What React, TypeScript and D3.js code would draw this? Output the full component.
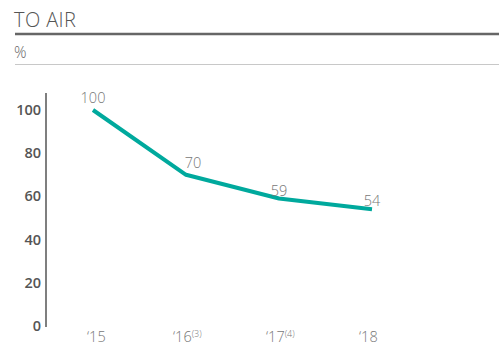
import React from "react";
import * as d3 from "d3";

const years = ["15", "16", "17", "18"];
const notes = ["", "(3)", "(4)", ""];
const values = [100, 70, 59, 54];
const yTicks = [0, 20, 40, 60, 80, 100];

const W = 499;
const H = 362;

export default function App() {
  const x = d3.scalePoint<string>().domain(years).range([93, 372]);
  const y = d3.scaleLinear().domain([0, 100]).range([326, 110]);
  const pts = years.map((yr, i) => ({ yr, v: values[i] }));
  const line = d3
    .line<{ yr: string; v: number }>()
    .x((d) => x(d.yr)!)
    .y((d) => y(d.v));

  const font = "'Open Sans', 'Noto Sans', sans-serif";

  return (
    <svg
      width={W}
      height={H}
      style={{ position: "absolute", left: 0, top: 0, background: "#fff" }}
      fontFamily={font}
    >
      <text x={14} y={27} fontSize={20} fontWeight={300} fill="#555" letterSpacing={0.4}>
        TO AIR
      </text>
      <line x1={15} x2={W} y1={34} y2={34} stroke="#666" strokeWidth={2.5} />
      <text x={14} y={57.5} fontSize={15.5} fontWeight={300} fill="#666">
        %
      </text>
      <line x1={15} x2={W} y1={64.5} y2={64.5} stroke="#c8c8c8" strokeWidth={1} />

      {/* y axis */}
      <line x1={46} x2={46} y1={93} y2={327} stroke="#555" strokeWidth={1.5} />
      {yTicks.map((t) => (
        <text
          key={t}
          x={41}
          y={y(t) + 5}
          textAnchor="end"
          fontSize={14.5}
          fontWeight={600}
          fill="#555"
        >
          {t}
        </text>
      ))}

      {/* series */}
      <path d={line(pts) || ""} fill="none" stroke="#00a99d" strokeWidth={4} strokeLinejoin="round" />

      {pts.map((d, i) => (
        <text
          key={d.yr}
          x={x(d.yr)! + (i === 1 ? 7 : 0)}
          y={y(d.v) - (i < 2 ? 7 : 3)}
          textAnchor="middle"
          fontSize={14.5}
          fontWeight={300}
          fill="#777"
        >
          {d.v}
        </text>
      ))}

      {/* x labels */}
      {years.map((yr, i) => (
        <text
          key={yr}
          x={x(yr)! - (i === 0 ? 6 : 13)}
          y={342}
          fontSize={14.5}
          fontWeight={300}
          fill="#777"
        >
          {"\u2018" + yr}
          {notes[i] && (
            <tspan fontSize={9} dy={-5}>
              {notes[i]}
            </tspan>
          )}
        </text>
      ))}
    </svg>
  );
}
